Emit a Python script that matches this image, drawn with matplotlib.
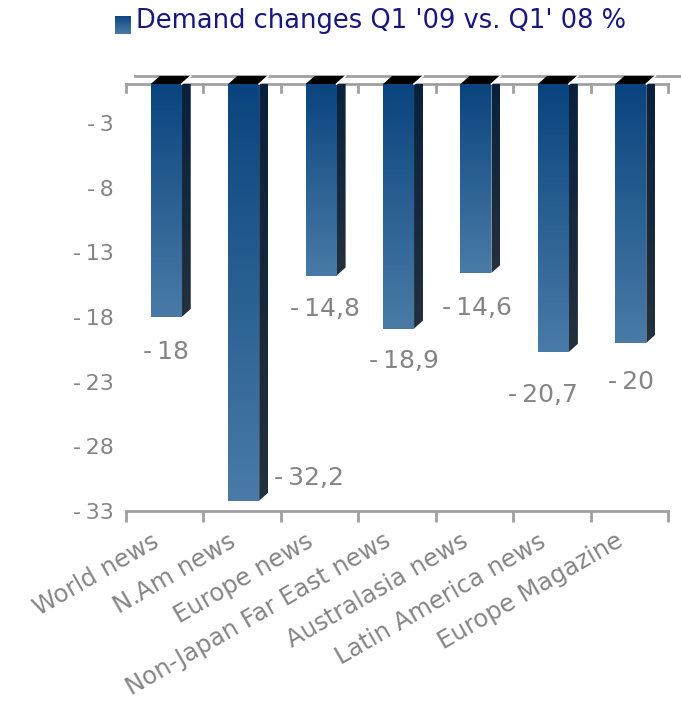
import numpy as np
import matplotlib
matplotlib.use("Agg")
import matplotlib.pyplot as plt
from matplotlib.patches import Polygon
from matplotlib.colors import LinearSegmentedColormap
from matplotlib.transforms import ScaledTranslation

# ---- data -------------------------------------------------------------
categories = ["World news", "N.Am news", "Europe news", "Non-Japan Far East news",
              "Australasia news", "Latin America news", "Europe Magazine"]
values = [-18, -32.2, -14.8, -18.9, -14.6, -20.7, -20]
ytick_values = [-3, -8, -13, -18, -23, -28, -33]
series_name = "Demand changes Q1 '09 vs. Q1' 08 %"

# ---- styling ----------------------------------------------------------
GREY = "#858585"
AXIS_GREY = "#a0a0a0"
front_cmap = LinearSegmentedColormap.from_list("front", ["#0a447e", "#4a7ba7"])
side_cmap = LinearSegmentedColormap.from_list("side", ["#08203d", "#24303d"])
label_offsets_px = [(1, -35), (67, 23), (5, -33), (7, -32), (3, -35), (-9, -43), (2, -39)]
depth_px = (9, 8)          # 3-D depth shift of the bar tops (right, up)
bar_width = 0.40


def neg_label(v):
    """Number with decimal comma and a small gap after the minus sign."""
    s = f"{v:g}".replace(".", ",")
    return s.replace("-", "-\u2009", 1)


W, H, DPI = 681, 708, 100
fig = plt.figure(figsize=(W / DPI, H / DPI), dpi=DPI)
ax_l, ax_r, ax_t, ax_b = 126, 668, 84, 511
ax = fig.add_axes([ax_l / W, 1 - ax_b / H, (ax_r - ax_l) / W, (ax_b - ax_t) / H])

n = len(categories)
x = np.arange(n)
ax.set_xlim(-0.5, n - 0.5)
ax.set_ylim(-33, 0)

# pixel -> data unit conversion for the depth shift
px_per_x = (ax_r - ax_l) / n
px_per_y = (ax_b - ax_t) / 33.0
ddx = depth_px[0] / px_per_x
ddy = depth_px[1] / px_per_y

for s in ["left", "right", "top"]:
    ax.spines[s].set_visible(False)
ax.spines["bottom"].set_color(AXIS_GREY)
ax.spines["bottom"].set_linewidth(2)

# y tick labels
ax.set_yticks(ytick_values)
ax.set_yticklabels([neg_label(v) for v in ytick_values])
ax.tick_params(axis="y", length=0, pad=9, labelsize=16, labelcolor=GREY)

# category labels and boundary ticks
ax.set_xticks(x)
ax.set_xticklabels(categories, rotation=30, ha="right", rotation_mode="anchor")
ax.tick_params(axis="x", which="major", length=0, pad=13, labelsize=17.5, labelcolor=GREY)
shift = ScaledTranslation(-14 / DPI, 0, fig.dpi_scale_trans)
for lbl in ax.get_xticklabels():
    lbl.set_transform(lbl.get_transform() + shift)
bounds = np.arange(-0.5, n, 1.0)
ax.set_xticks(bounds, minor=True)
ax.tick_params(axis="x", which="minor", length=8, width=2, color=AXIS_GREY, direction="out")

# top (floor) lines: front edge with inward ticks and back edge shifted by depth
ax.plot([-0.5, n - 0.5], [0, 0], color=AXIS_GREY, lw=2, clip_on=False, zorder=1)
for b in bounds:
    ax.plot([b, b], [0, -8 / px_per_y], color=AXIS_GREY, lw=2, clip_on=False, zorder=1)
back = ax.transData + ScaledTranslation(depth_px[0] / DPI, depth_px[1] / DPI, fig.dpi_scale_trans)
ax.plot([-0.5, n - 0.5 + 0.1], [0, 0], color=AXIS_GREY, lw=2, transform=back,
        clip_on=False, zorder=1)

# bars: front faces via ax.bar, filled with vertical gradients
bars = ax.bar(x + 0.02, values, width=bar_width, color="none", edgecolor="none", zorder=3)
grad = np.linspace(0, 1, 256).reshape(-1, 1)
for rect, v in zip(bars, values):
    x0 = rect.get_x()
    x1 = x0 + rect.get_width()
    im = ax.imshow(grad, cmap=front_cmap, aspect="auto", extent=(x0, x1, v, 0),
                   origin="upper", zorder=3, interpolation="bilinear")
    im.set_clip_path(rect)

    side = Polygon([(x1, 0), (x1 + ddx, ddy), (x1 + ddx, v + ddy), (x1, v)],
                   closed=True, facecolor="none", edgecolor="none",
                   transform=ax.transData)
    ax.add_patch(side)
    side.set_clip_on(False)
    im2 = ax.imshow(grad, cmap=side_cmap, aspect="auto", extent=(x1, x1 + ddx, v, ddy),
                    origin="upper", zorder=3, interpolation="bilinear")
    im2.set_clip_path(side)

    top = Polygon([(x0, 0), (x1, 0), (x1 + ddx, ddy), (x0 + ddx, ddy)], closed=True,
                  facecolor="black", edgecolor="none", zorder=4, clip_on=False)
    ax.add_patch(top)
    ax.plot([x1, x1 + ddx], [0, ddy], color="white", lw=1.2, zorder=5, clip_on=False)

# value labels
for xi, v, (ox, oy) in zip(x, values, label_offsets_px):
    ax.annotate(neg_label(v), xy=(xi, v), xytext=(ox, oy), textcoords="offset pixels",
                ha="center", va="center", fontsize=18, color=GREY, zorder=6)

# legend
sw = fig.add_axes([115 / W, 1 - 34 / H, 16 / W, 18 / H])
sw.imshow(grad, cmap=front_cmap, aspect="auto", interpolation="bilinear")
sw.set_axis_off()
fig.text(136 / W, 1 - 21 / H, series_name, fontsize=18.5, color="#17177e",
         ha="left", va="center")

fig.savefig("out.png", dpi=DPI)
